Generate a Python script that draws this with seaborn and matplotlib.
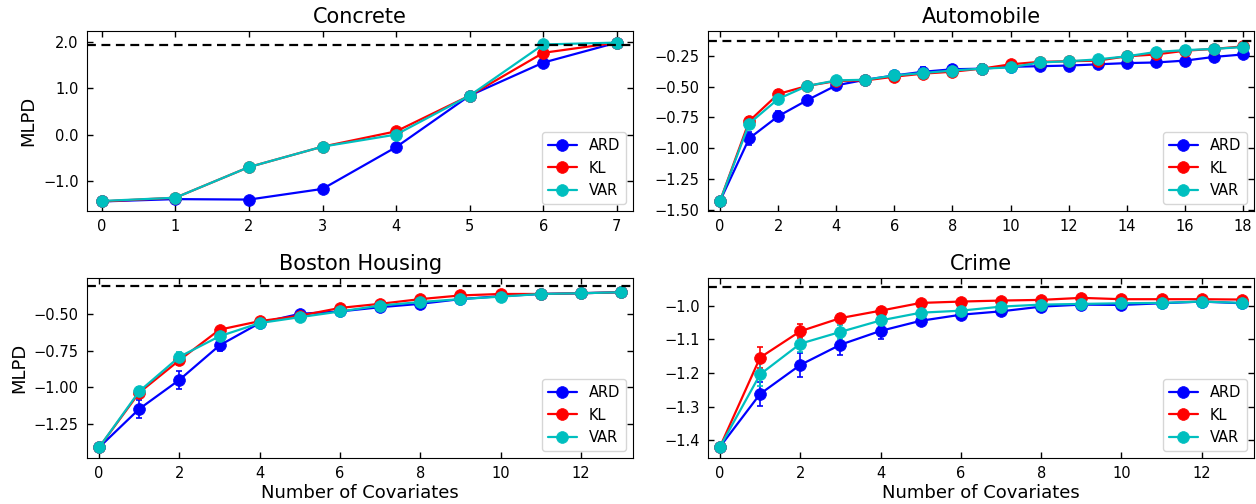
import numpy as np
import pandas as pd
import matplotlib
matplotlib.use("Agg")
import matplotlib.pyplot as plt
import seaborn as sns

# ---------------- data ----------------
methods = ["ARD", "KL", "VAR"]
colors = {"ARD": "b", "KL": "r", "VAR": "c"}

concrete_x = list(range(0, 8))
concrete_ard = [-1.44, -1.39, -1.40, -1.17, -0.27, 0.84, 1.55, 1.98]
concrete_kl = [-1.44, -1.36, -0.70, -0.26, 0.07, 0.84, 1.76, 1.98]
concrete_var = [-1.43, -1.36, -0.70, -0.26, 0.00, 0.84, 1.94, 1.98]
concrete_ard_err = [0.02, 0.02, 0.02, 0.03, 0.03, 0.02, 0.08, 0.02]
concrete_kl_err = [0.02, 0.02, 0.02, 0.02, 0.03, 0.02, 0.04, 0.02]
concrete_var_err = [0.02, 0.02, 0.02, 0.02, 0.02, 0.02, 0.03, 0.02]
concrete_ref = 1.92

auto_x = list(range(0, 19))
auto_ard = [-1.425, -0.92, -0.74, -0.61, -0.49, -0.445, -0.41, -0.38, -0.36, -0.355,
            -0.34, -0.335, -0.33, -0.32, -0.31, -0.305, -0.29, -0.26, -0.24]
auto_kl = [-1.425, -0.78, -0.56, -0.495, -0.455, -0.45, -0.42, -0.395, -0.38, -0.355,
           -0.32, -0.30, -0.295, -0.29, -0.255, -0.24, -0.21, -0.195, -0.175]
auto_var = [-1.425, -0.80, -0.60, -0.495, -0.45, -0.445, -0.41, -0.39, -0.37, -0.355,
            -0.345, -0.305, -0.295, -0.28, -0.255, -0.22, -0.205, -0.195, -0.18]
auto_ard_err = [0.01, 0.05, 0.04, 0.035, 0.025, 0.03, 0.035, 0.035, 0.035, 0.03,
                0.03, 0.03, 0.035, 0.03, 0.03, 0.03, 0.03, 0.03, 0.03]
auto_kl_err = [0.01, 0.03, 0.03, 0.025, 0.025, 0.03, 0.03, 0.03, 0.03, 0.03,
               0.03, 0.03, 0.03, 0.03, 0.03, 0.03, 0.03, 0.03, 0.03]
auto_var_err = [0.01, 0.03, 0.04, 0.03, 0.03, 0.03, 0.03, 0.035, 0.03, 0.035,
                0.03, 0.03, 0.03, 0.03, 0.03, 0.03, 0.03, 0.03, 0.03]
auto_ref = -0.13

boston_x = list(range(0, 14))
boston_ard = [-1.41, -1.148, -0.95, -0.715, -0.563, -0.50, -0.484, -0.455, -0.432,
              -0.40, -0.38, -0.365, -0.36, -0.353]
boston_kl = [-1.41, -1.037, -0.816, -0.608, -0.55, -0.513, -0.46, -0.432, -0.40,
             -0.375, -0.365, -0.365, -0.36, -0.353]
boston_var = [-1.41, -1.028, -0.793, -0.653, -0.563, -0.523, -0.484, -0.444, -0.42,
              -0.40, -0.383, -0.365, -0.36, -0.353]
boston_ard_err = [0.01, 0.06, 0.06, 0.04, 0.02, 0.02, 0.02, 0.02, 0.02, 0.02, 0.02, 0.02, 0.02, 0.02]
boston_kl_err = [0.01, 0.03, 0.03, 0.02, 0.02, 0.02, 0.02, 0.02, 0.02, 0.02, 0.02, 0.02, 0.02, 0.02]
boston_var_err = [0.01, 0.03, 0.03, 0.03, 0.02, 0.02, 0.02, 0.02, 0.02, 0.02, 0.02, 0.02, 0.02, 0.02]
boston_ref = -0.313

crime_x = list(range(0, 14))
crime_ard = [-1.419, -1.262, -1.176, -1.116, -1.075, -1.045, -1.027, -1.017, -1.003,
             -0.997, -0.998, -0.993, -0.988, -0.993]
crime_kl = [-1.419, -1.154, -1.076, -1.037, -1.015, -0.992, -0.988, -0.985, -0.983,
            -0.977, -0.981, -0.981, -0.981, -0.982]
crime_var = [-1.419, -1.204, -1.113, -1.078, -1.044, -1.021, -1.015, -1.003, -0.997,
             -0.995, -0.993, -0.992, -0.988, -0.992]
crime_ard_err = [0.005, 0.035, 0.035, 0.03, 0.025, 0.012, 0.01, 0.01, 0.008, 0.006, 0.006, 0.006, 0.006, 0.006]
crime_kl_err = [0.005, 0.03, 0.02, 0.012, 0.01, 0.006, 0.006, 0.006, 0.006, 0.006, 0.006, 0.006, 0.006, 0.006]
crime_var_err = [0.005, 0.035, 0.025, 0.02, 0.015, 0.01, 0.008, 0.006, 0.006, 0.006, 0.006, 0.006, 0.006, 0.006]
crime_ref = -0.946

panels = [
    dict(title="Concrete", x=concrete_x,
         y={"ARD": concrete_ard, "KL": concrete_kl, "VAR": concrete_var},
         e={"ARD": concrete_ard_err, "KL": concrete_kl_err, "VAR": concrete_var_err},
         ref=concrete_ref, xlim=(-0.2, 7.22), ylim=(-1.646, 2.23),
         xticks=list(range(0, 8)), yticks=[-1.0, 0.0, 1.0, 2.0], yfmt="{:.1f}"),
    dict(title="Automobile", x=auto_x,
         y={"ARD": auto_ard, "KL": auto_kl, "VAR": auto_var},
         e={"ARD": auto_ard_err, "KL": auto_kl_err, "VAR": auto_var_err},
         ref=auto_ref, xlim=(-0.42, 18.38), ylim=(-1.508, -0.05),
         xticks=list(range(0, 19, 2)), yticks=[-1.5, -1.25, -1.0, -0.75, -0.5, -0.25], yfmt="{:.2f}"),
    dict(title="Boston Housing", x=boston_x,
         y={"ARD": boston_ard, "KL": boston_kl, "VAR": boston_var},
         e={"ARD": boston_ard_err, "KL": boston_kl_err, "VAR": boston_var_err},
         ref=boston_ref, xlim=(-0.3, 13.3), ylim=(-1.482, -0.256),
         xticks=list(range(0, 13, 2)), yticks=[-1.25, -1.0, -0.75, -0.5], yfmt="{:.2f}"),
    dict(title="Crime", x=crime_x,
         y={"ARD": crime_ard, "KL": crime_kl, "VAR": crime_var},
         e={"ARD": crime_ard_err, "KL": crime_kl_err, "VAR": crime_var_err},
         ref=crime_ref, xlim=(-0.3, 13.3), ylim=(-1.452, -0.918),
         xticks=list(range(0, 13, 2)), yticks=[-1.4, -1.3, -1.2, -1.1, -1.0], yfmt="{:.1f}"),
]

# ---------------- style ----------------
sns.set_style("white", rc={
    "xtick.direction": "in", "ytick.direction": "in",
    "xtick.top": True, "ytick.right": True,
    "xtick.bottom": True, "ytick.left": True,
    "axes.edgecolor": "black", "axes.linewidth": 1.1,
    "xtick.color": "black", "ytick.color": "black",
    "text.color": "black", "axes.labelcolor": "black",
})
plt.rcParams["font.family"] = ["DejaVu Sans"]
plt.rcParams["xtick.major.size"] = 4
plt.rcParams["ytick.major.size"] = 4
plt.rcParams["xtick.major.width"] = 1.0
plt.rcParams["ytick.major.width"] = 1.0

fig, axes = plt.subplots(2, 2, figsize=(12.56, 5.04), dpi=100)
fig.subplots_adjust(left=0.0693, right=0.9984, top=0.9385, bottom=0.0913,
                    wspace=0.137, hspace=0.372)

for ax, p in zip(axes.flat, panels):
    for m in methods:
        df = pd.DataFrame({"x": p["x"], "y": p["y"][m]})
        ax.errorbar(p["x"], p["y"][m], yerr=p["e"][m], fmt="none",
                    ecolor=colors[m], elinewidth=1.2, capsize=2, capthick=1.2, zorder=2)
        sns.lineplot(data=df, x="x", y="y", ax=ax, color=colors[m], marker="o",
                     markersize=8.5, linewidth=1.6, markeredgecolor=colors[m],
                     markeredgewidth=0.5, label=m, zorder=3)
    ax.axhline(p["ref"], color="black", linestyle="--", linewidth=1.6, dashes=(4, 2.5), zorder=4)
    ax.set_xlim(*p["xlim"])
    ax.set_ylim(*p["ylim"])
    ax.set_xticks(p["xticks"])
    ax.set_yticks(p["yticks"])
    ax.set_yticklabels([p["yfmt"].format(v).replace("-", "\u2212") for v in p["yticks"]])
    ax.tick_params(labelsize=10.5, pad=6)
    ax.set_title(p["title"], fontsize=15)
    ax.set_xlabel("")
    ax.set_ylabel("")
    leg = ax.legend(loc="lower right", fontsize=10.5, frameon=True, fancybox=True,
                    borderaxespad=0.5)
    leg.get_frame().set_edgecolor("0.8")
    for s in ax.spines.values():
        s.set_visible(True)

axes[0, 0].set_ylabel("MLPD", fontsize=13)
axes[1, 0].set_ylabel("MLPD", fontsize=13)
axes[1, 0].set_xlabel("Number of Covariates", fontsize=13, labelpad=2)
axes[1, 1].set_xlabel("Number of Covariates", fontsize=13, labelpad=2)

fig.savefig("out.png", dpi=100)
